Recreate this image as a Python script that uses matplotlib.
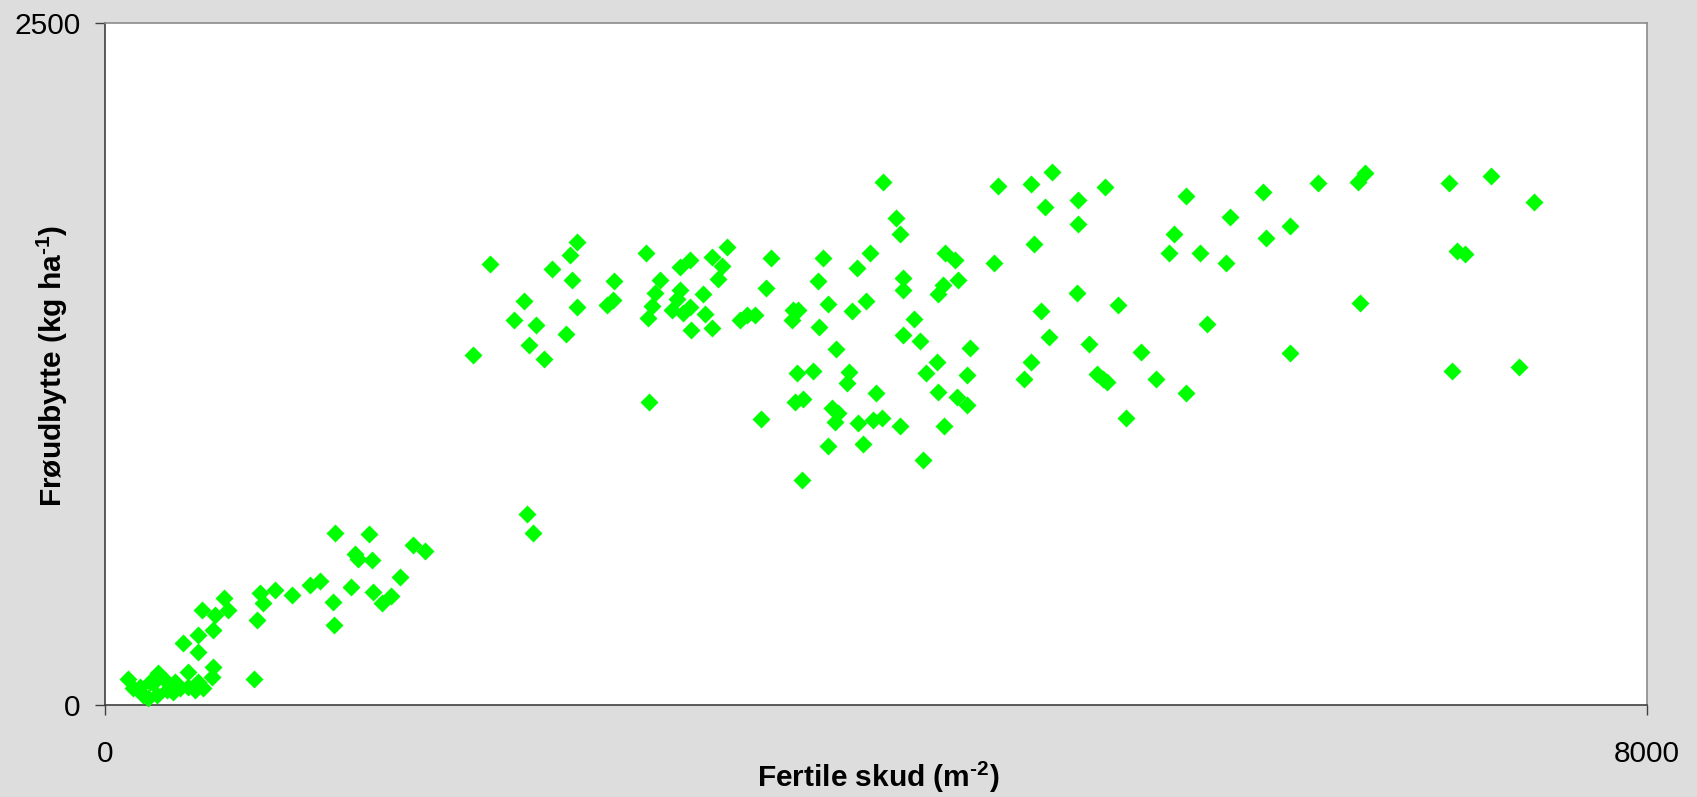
import matplotlib
matplotlib.use("Agg")
import matplotlib.pyplot as plt

plt.rcParams['font.family'] = ['Liberation Sans', 'DejaVu Sans']
plt.rcParams['mathtext.fontset'] = 'custom'
plt.rcParams['mathtext.rm'] = 'Liberation Sans:bold'
plt.rcParams['mathtext.default'] = 'regular'

# fertile shoots (m-2) and seed yield (kg ha-1)
shoots = [121, 147, 199, 225, 277, 251, 268, 320, 363, 355, 311, 432, 432, 484, 510,
          562, 553, 403, 484, 773, 182, 233, 389, 467,
          484, 562, 502, 571, 640, 617, 787, 804, 821, 882, 968, 1064, 1115, 1185,
          1190, 1193, 1371, 1297, 1314, 1384, 1600, 1660, 1532, 1278, 1392, 1483,
          1435, 2191, 2219,
          1997, 1908, 2174, 2124, 2236, 2200, 2279, 2317, 2450, 2412, 2421, 2447,
          2392, 2641, 2603, 2637, 2805, 2879, 2853, 2836, 2818, 2824, 2983, 3035,
          3147, 3225, 3199, 3182, 2983, 2966, 3103, 2940, 3000, 3035, 3113, 3038,
          3151, 3454, 3429, 3294, 3329, 3372, 3571, 3597, 3562, 3727, 3697, 3749,
          3704, 3792, 3592, 3675, 3580, 3623, 3402, 3770, 3805, 3787, 3753, 3614,
          4038, 4634, 4804, 4915, 4877, 5046, 5046, 5188, 5608, 5836, 5548, 5520,
          5681, 5816, 4104, 4124, 3969, 3903, 4358, 4410, 4612, 4820, 4138, 4138,
          4346, 4323, 4427, 3948, 3874, 4197, 4138, 4228, 3860, 3851, 4000, 3908,
          3986, 4029, 4124, 3931, 4242, 4488, 4315, 4259, 4470, 4323, 4419, 4473,
          4355, 4856, 5041, 5254, 4899, 5107, 4804, 4768, 5145, 5180, 5197, 5373,
          5453, 5608, 5297, 5719,
          6006, 6295, 6502, 6537, 6975, 7189, 7415, 6148, 6023, 7012, 7056, 6511,
          6148, 6988, 7336]
seed_yield = [94, 61, 37, 24, 116, 79, 37, 55, 86, 49, 92, 122, 67, 86, 61,
              140, 104, 228, 196, 94, 67, 86, 61, 55,
              257, 275, 348, 330, 348, 391, 312, 409, 373, 422, 403, 440, 455, 377,
              295, 632, 627, 554, 534, 532, 587, 566, 470, 434, 414, 400,
              373, 699, 632,
              1615, 1283, 1481, 1411, 1393, 1320, 1267, 1600, 1698, 1650, 1558, 1460,
              1360, 1554, 1466, 1485, 1658, 1558, 1509, 1463, 1417, 1112, 1607, 1631,
              1643, 1680, 1609, 1560, 1521, 1490, 1505, 1448, 1436, 1460, 1432, 1375,
              1381, 1640, 1527, 1411, 1430, 1430, 1448, 1448, 1411, 1640, 1554, 1470,
              1386, 1304, 1216, 1226, 1112, 1120, 1048, 1088, 1069, 1039, 949, 825,
              1918, 1902, 1908, 1955, 1824, 1851, 1762, 1898, 1866, 1788, 1725, 1658,
              1658, 1621, 1784, 1725, 1658, 1601, 1658, 1631, 1621, 1689, 1564, 1521,
              1540, 1505, 1558, 1481, 1444, 1414, 1356, 1334, 1222, 1179, 1143, 1033,
              1045, 1053, 1023, 956, 898, 1310, 1257, 1216, 1210, 1147, 1128, 1100,
              1023, 1444, 1511, 1465, 1350, 1325, 1257, 1194, 1213, 1195, 1185, 1293,
              1194, 1143, 1053, 1398,
              1882, 1915, 1918, 1949, 1915, 1939, 1845, 1757, 1711, 1664, 1652, 1475,
              1289, 1226, 1240]

fig = plt.figure(figsize=(16.97, 7.97), dpi=100, facecolor='#dddddd')
ax = fig.add_axes([105/1697, 92/797, 1542/1697, 682/797])
ax.set_facecolor('white')

ax.scatter(shoots, seed_yield, marker='D', s=84, color='#00ff00',
           linewidths=0, zorder=3, clip_on=False)

ax.set_xlim(0, 8000)
ax.set_ylim(0, 2500)
ax.set_xticks([0, 8000])
ax.set_yticks([0, 2500])
ax.tick_params(axis='both', direction='out', length=7.2, width=1,
               color='#404040', labelsize=21.5)
ax.tick_params(axis='x', pad=18)
ax.tick_params(axis='y', pad=10.5)

for side in ['top', 'right']:
    ax.spines[side].set_color('#8c8c8c')
    ax.spines[side].set_linewidth(1.2)
for side in ['left', 'bottom']:
    ax.spines[side].set_color('#404040')
    ax.spines[side].set_linewidth(1.2)

# hyphen instead of the math minus, like the original
fig.text(0.5174, 0.025, r'Fertile skud (m$^{\text{-2}}$)', ha='center', va='center',
         fontsize=21.5, fontweight='bold')
fig.text(0.031, 0.541, r'Frøudbytte (kg ha$^{\text{-1}}$)', ha='center', va='center',
         rotation=90, fontsize=21.5, fontweight='bold')

fig.savefig('out.png', dpi=100, facecolor=fig.get_facecolor())
